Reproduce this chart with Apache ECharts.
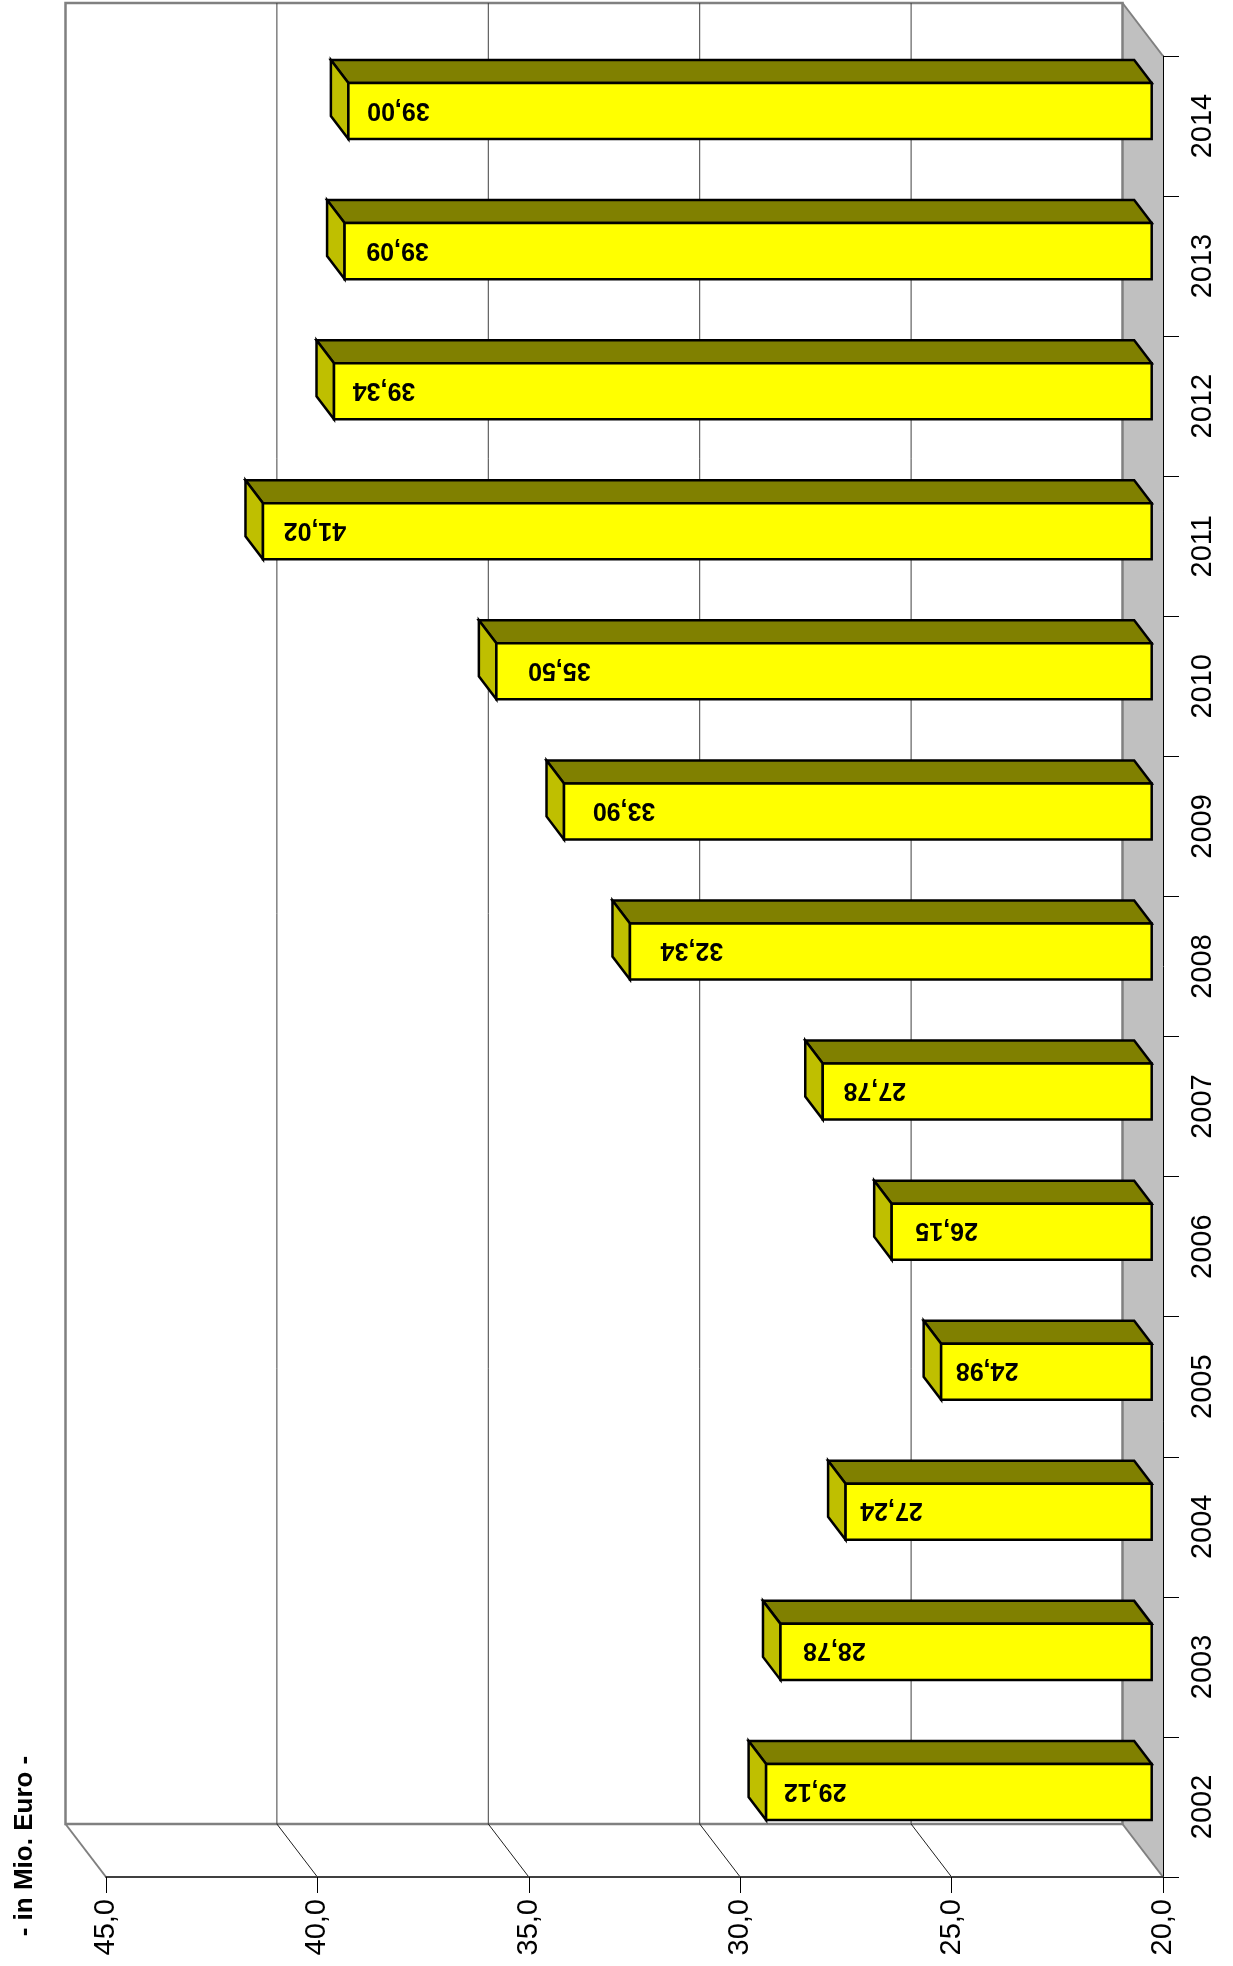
<!DOCTYPE html>
<html>
<head>
<meta charset="utf-8">
<style>html,body{margin:0;padding:0;background:#fff}#c{width:1233px;height:1966px}</style>
<script src="https://cdn.jsdelivr.net/npm/echarts@6/dist/echarts.min.js"></script>
</head>
<body>
<div id="c"></div>
<script>
const categories = ['2002','2003','2004','2005','2006','2007','2008','2009','2010','2011','2012','2013','2014'];
const values = [29.12,28.78,27.24,24.98,26.15,27.78,32.34,33.90,35.50,41.02,39.34,39.09,39.00];
const valueTicks = [20,25,30,35,40,45];
const unitLabel = '- in Mio. Euro -';

const WALL_DX = -40.5, WALL_DY = -53;
const BAR_DX = -11.3, BAR_DY = -15;
const DEPTH_DX = -17.5, DEPTH_DY = -23;
// hand placement of each value label from the bar's left end, in pixels
const labelInset = [49,54,46,46,55,52,62,60,63,52,50,53,50];
const fmt = (v, d) => v.toFixed(d).replace('.', ',');
const FONT = '"Liberation Sans", Arial, sans-serif';

const chart = echarts.init(document.getElementById('c'), null, {renderer:'canvas'});

function poly(points, fill, stroke, lw) {
  return {type:'polygon', shape:{points}, style:{fill, stroke, lineWidth:lw, lineJoin:'miter'}};
}
function line(x1,y1,x2,y2,stroke,lw) {
  return {type:'line', shape:{x1,y1,x2,y2}, style:{stroke, lineWidth:lw}};
}

function renderWall(params, api) {
  const c = params.coordSys;
  const L = c.x, R = c.x + c.width, T = c.y, B = c.y + c.height;
  return {type:'group', children:[
    poly([[R+WALL_DX,T+WALL_DY],[R,T],[R,B],[R+WALL_DX,B+WALL_DY]], '#C0C0C0', 'none', 0),
    {type:'rect', shape:{x:L+WALL_DX,y:T+WALL_DY,width:c.width,height:c.height}, style:{fill:'#fff',stroke:'#808080',lineWidth:2.5}},
    line(L+WALL_DX,B+WALL_DY,L,B,'#808080',2),
    line(R+WALL_DX,T+WALL_DY,R,T,'#808080',2),
    line(R+WALL_DX,B+WALL_DY,R,B,'#808080',2)
  ]};
}
function renderGrid(params, api) {
  const c = params.coordSys;
  const x = api.coord([api.value(0), categories[0]])[0];
  const T = c.y, B = c.y + c.height;
  return {type:'group', children:[
    line(x+WALL_DX,T+WALL_DY,x+WALL_DX,B+WALL_DY,'#404040',1),
    line(x+WALL_DX,B+WALL_DY,x,B,'#202020',1)
  ]};
}
function renderBar(params, api) {
  const p = api.coord([api.value(0), api.value(1)]);
  const base = api.coord([20, api.value(1)]);
  const h = api.size([0,1])[1] * 0.4;
  const xl = p[0] + BAR_DX, xr = base[0] + BAR_DX;
  const yc = p[1] + BAR_DY, yt = yc - h/2, yb = yc + h/2;
  const dx = DEPTH_DX, dy = DEPTH_DY;
  return {type:'group', children:[
    poly([[xl,yt],[xr,yt],[xr+dx,yt+dy],[xl+dx,yt+dy]], '#808000', '#000', 2.5),
    poly([[xl,yt],[xl+dx,yt+dy],[xl+dx,yb+dy],[xl,yb]], '#BFBF00', '#000', 2.5),
    poly([[xl,yt],[xr,yt],[xr,yb],[xl,yb]], '#FFFF00', '#000', 2.5),
    {type:'text', x:xl+labelInset[params.dataIndex], y:yc-1.5, rotation:Math.PI,
      style:{text:fmt(api.value(0),2), fill:'#000', font:'bold 25px '+FONT, align:'center', verticalAlign:'middle'}}
  ]};
}

chart.setOption({
  animation:false,
  backgroundColor:'#fff',
  grid:{left:106, right:70, top:56, bottom:89},
  xAxis:{type:'value', inverse:true, min:20, max:45, interval:5, z:5,
    axisLine:{show:true, onZero:false, lineStyle:{color:'#404040', width:2}},
    axisTick:{show:true, length:16, lineStyle:{color:'#000', width:1}},
    splitLine:{show:false},
    axisLabel:{rotate:90, margin:22, color:'#000', fontFamily:FONT, fontSize:29, formatter:v=>fmt(v,1)}
  },
  yAxis:{type:'category', data:categories, position:'right', z:5,
    axisLine:{show:true, onZero:false, lineStyle:{color:'#000', width:1}},
    axisTick:{show:true, length:16, lineStyle:{color:'#000', width:1}},
    splitLine:{show:false},
    axisLabel:{rotate:90, margin:25, color:'#000', fontFamily:FONT, fontSize:29, align:'center', verticalAlign:'top', interval:0}
  },
  graphic:[{type:'text', x:25, y:1846, rotation:Math.PI/2,
    style:{text:unitLabel, fill:'#000', font:'bold 26px '+FONT, align:'center', verticalAlign:'middle'}}],
  series:[
    {type:'custom', coordinateSystem:'cartesian2d', z:1, clip:false, silent:true, renderItem:renderWall, data:[[20,categories[0]]], encode:{x:0,y:1}},
    {type:'custom', coordinateSystem:'cartesian2d', z:2, clip:false, silent:true, renderItem:renderGrid, data:valueTicks.slice(1,-1).map(v=>[v,categories[0]]), encode:{x:0,y:1}},
    {type:'custom', coordinateSystem:'cartesian2d', z:3, clip:false, silent:true, renderItem:renderBar, data:values.map((v,i)=>[v,categories[i]]), encode:{x:0,y:1}}
  ]
});
</script>
</body>
</html>
